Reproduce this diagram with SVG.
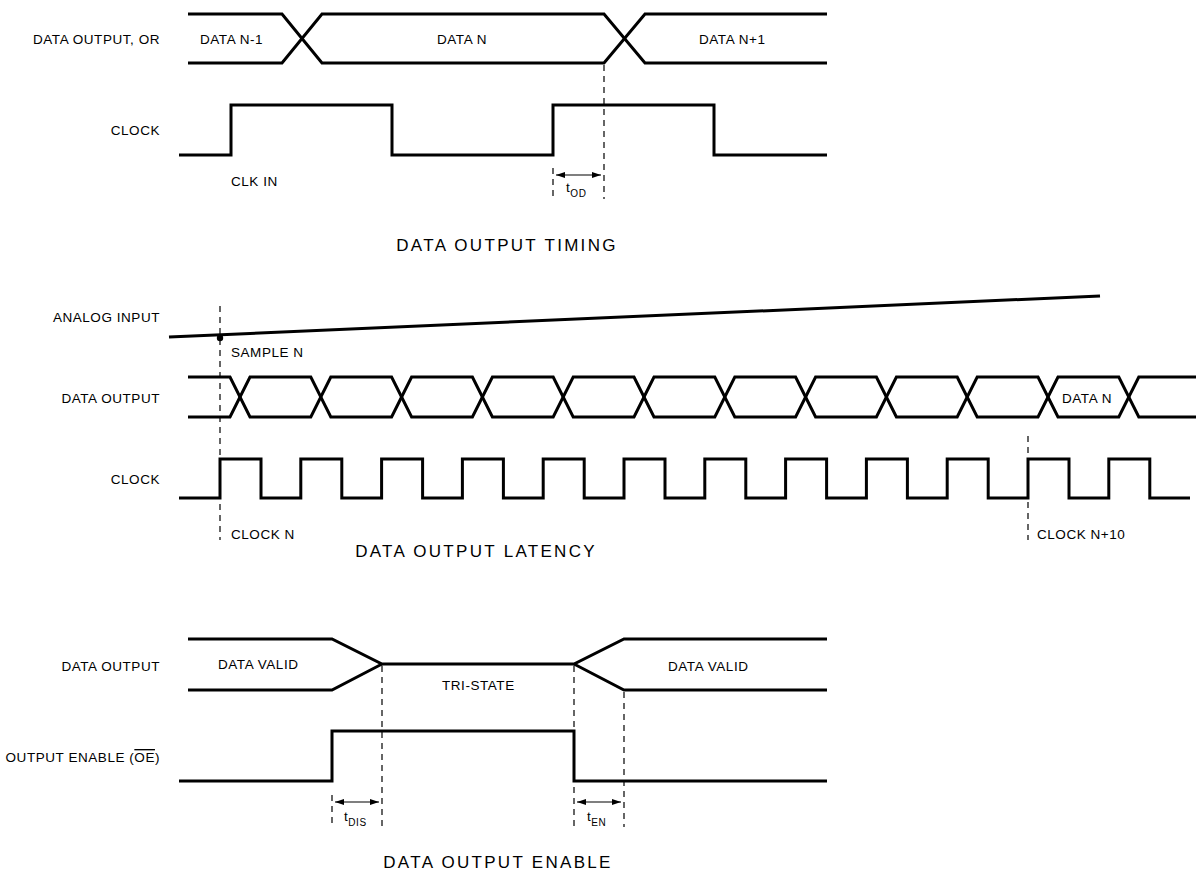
<svg xmlns="http://www.w3.org/2000/svg" width="1196" height="875" viewBox="0 0 1196 875">
<style>
.w{fill:none;stroke:#000;stroke-width:3;stroke-linejoin:miter}
.d{fill:none;stroke:#000;stroke-width:1.2;stroke-dasharray:6,5}
.a{fill:none;stroke:#000;stroke-width:1.2}
text{font-family:"Liberation Sans",Arial,sans-serif;fill:#000}
.l{font-size:13.5px;letter-spacing:0.55px}
.r{text-anchor:end}
.t{font-size:17px;letter-spacing:2.3px;text-anchor:middle}
.s{font-size:10px}
</style>
<defs>
<marker id="ah" markerWidth="9" markerHeight="6" refX="9" refY="3" orient="auto-start-reverse" markerUnits="userSpaceOnUse">
<path d="M0,0 L9,3 L0,6 Z" fill="#000"/>
</marker>
</defs>

<g id="timing">
<g id="timing-labels">
<text class="l r" x="160" y="44">DATA OUTPUT, OR</text>
<text class="l r" x="160" y="135">CLOCK</text>
</g>
<g id="timing-data">
<path class="w" d="M188,14 L282,14 L322,63 L604,63 L645,14 L827,14"/>
<path class="w" d="M188,63 L282,63 L322,14 L604,14 L645,63 L827,63"/>
<text class="l" x="200" y="44">DATA N-1</text>
<text class="l" x="437" y="44">DATA N</text>
<text class="l" x="699" y="44">DATA N+1</text>
</g>
<g id="timing-clock">
<path class="w" d="M179,155 H231 V105 H392 V155 H553 V105 H714 V155 H827"/>
<text class="l" x="231" y="186">CLK IN</text>
</g>
<g id="timing-tod">
<text class="l" x="566" y="192">t<tspan class="s" dy="5">OD</tspan></text>
</g>
<text class="t" x="507" y="251">DATA OUTPUT TIMING</text>
</g>

<g id="latency">
<g id="latency-labels">
<text class="l r" x="160" y="322">ANALOG INPUT</text>
<text class="l r" x="160" y="403">DATA OUTPUT</text>
<text class="l r" x="160" y="484">CLOCK</text>
</g>
<g id="analog">
<path class="w" d="M169,337 L1100,296"/>
<circle cx="220" cy="338" r="3.2" fill="#000"/>
<text class="l" x="231" y="357">SAMPLE N</text>
</g>
<g id="latency-data">
<path class="w" d="M188,377 L230,377 L250,417 L310.8,417 L330.8,377 L391.6,377 L411.6,417 L472.4,417 L492.4,377 L553.2,377 L573.2,417 L634,417 L654,377 L714.8,377 L734.8,417 L795.6,417 L815.6,377 L876.4,377 L896.4,417 L957.2,417 L977.2,377 L1038,377 L1058,417 L1118.8,417 L1138.8,377 L1196,377"/>
<path class="w" d="M188,417 L230,417 L250,377 L310.8,377 L330.8,417 L391.6,417 L411.6,377 L472.4,377 L492.4,417 L553.2,417 L573.2,377 L634,377 L654,417 L714.8,417 L734.8,377 L795.6,377 L815.6,417 L876.4,417 L896.4,377 L957.2,377 L977.2,417 L1038,417 L1058,377 L1118.8,377 L1138.8,417 L1196,417"/>
<text class="l" x="1062" y="403">DATA N</text>
</g>
<g id="latency-clock">
<path class="w" d="M179,498 H220 V459 H261 V498 H300.8 V459 H341.8 V498 H381.6 V459 H422.6 V498 H462.4 V459 H503.4 V498 H543.2 V459 H584.2 V498 H624 V459 H665 V498 H704.8 V459 H745.8 V498 H785.6 V459 H826.6 V498 H866.4 V459 H907.4 V498 H947.2 V459 H988.2 V498 H1028 V459 H1069 V498 H1108.8 V459 H1149.8 V498 H1190"/>
<text class="l" x="231" y="539">CLOCK N</text>
<text class="l" x="1037" y="539">CLOCK N+10</text>
</g>
<text class="t" x="476" y="557">DATA OUTPUT LATENCY</text>
</g>

<g id="enable">
<g id="enable-labels">
<text class="l r" x="160" y="671">DATA OUTPUT</text>
<text class="l r" x="160" y="762">OUTPUT ENABLE (<tspan style="text-decoration:overline">OE</tspan>)</text>
</g>
<g id="enable-data">
<path class="w" d="M188,639 H332 L382,664 H574 L624,639 H827"/>
<path class="w" d="M188,690 H332 L382,664"/>
<path class="w" d="M574,664 L624,690 H827"/>
<text class="l" x="218" y="669">DATA VALID</text>
<text class="l" x="442" y="690">TRI-STATE</text>
<text class="l" x="668" y="671">DATA VALID</text>
</g>
<g id="enable-oe">
<path class="w" d="M179,781 H332 V731 H574 V781 H827"/>
</g>
<g id="enable-times">
<text class="l" x="344" y="821">t<tspan class="s" dy="5">DIS</tspan></text>
<text class="l" x="587" y="821">t<tspan class="s" dy="5">EN</tspan></text>
</g>
<text class="t" x="498" y="868">DATA OUTPUT ENABLE</text>
</g>

<g id="connectors">
<path class="d" d="M604,65 V199"/>
<path class="d" d="M553,168 V199"/>
<path class="a" d="M556,175 H601" marker-start="url(#ah)" marker-end="url(#ah)"/>
<path class="d" d="M220,306 V540"/>
<path class="d" d="M1028,436 V540"/>
<path class="d" d="M382,666 V827"/>
<path class="d" d="M574,666 V827"/>
<path class="d" d="M624,692 V827"/>
<path class="d" d="M332,795 V827"/>
<path class="a" d="M335,802 H379" marker-start="url(#ah)" marker-end="url(#ah)"/>
<path class="a" d="M577,802 H621" marker-start="url(#ah)" marker-end="url(#ah)"/>
</g>
</svg>
